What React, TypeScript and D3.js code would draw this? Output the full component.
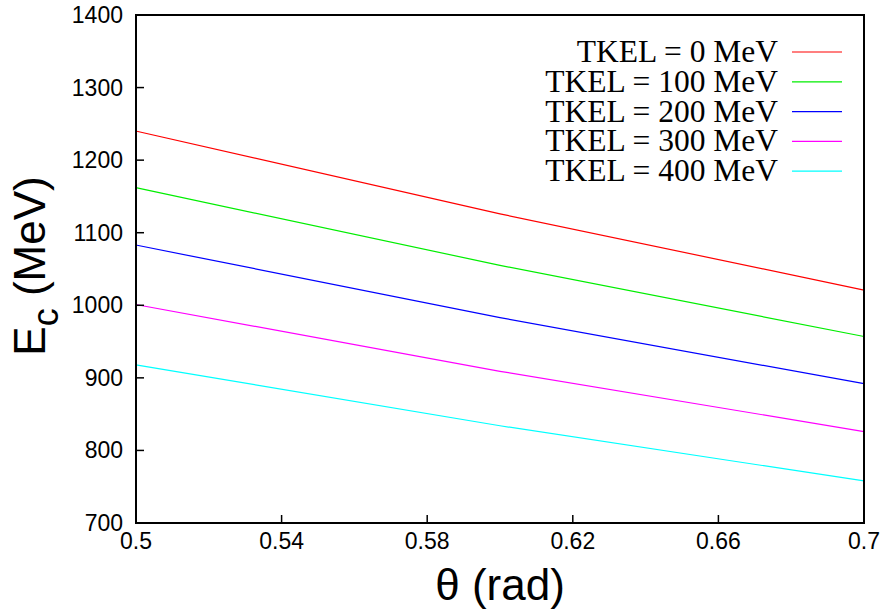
import React from "react";
import * as d3 from "d3";

const thetaValues = [0.5, 0.6, 0.7];
const seriesLabels = ["TKEL = 0 MeV", "TKEL = 100 MeV", "TKEL = 200 MeV", "TKEL = 300 MeV", "TKEL = 400 MeV"];
const seriesColors = ["#ff0000", "#00ee00", "#0000ff", "#ff00ff", "#00ffff"];
const tkel0 = [1240, 1126, 1021];
const tkel100 = [1162, 1055, 957];
const tkel200 = [1083, 983, 892];
const tkel300 = [1001, 909, 826];
const tkel400 = [918, 834, 758];
const seriesValues = [tkel0, tkel100, tkel200, tkel300, tkel400];
const xTicks = [0.5, 0.54, 0.58, 0.62, 0.66, 0.7];
const yTicks = [700, 800, 900, 1000, 1100, 1200, 1300, 1400];

const W = 886, H = 610;
const L = 136, R = 864, T = 15, B = 523;

export default function App() {
  const x = d3.scaleLinear().domain([0.5, 0.7]).range([L, R]);
  const y = d3.scaleLinear().domain([700, 1400]).range([B, T]);
  const line = d3.line<number>()
    .x((_, i) => x(thetaValues[i]))
    .y((d) => y(d))
    .curve(d3.curveMonotoneX);
  const sans = "'Liberation Sans', Arial, sans-serif";
  const serif = "'Liberation Serif', 'Times New Roman', serif";
  return (
    <svg width={W} height={H} style={{ position: "absolute", left: 0, top: 0, background: "#fff" }}>
      <rect x={0} y={0} width={W} height={H} fill="#fff" />
      {seriesValues.map((vals, i) => (
        <path key={i} d={line(vals) || ""} fill="none" stroke={seriesColors[i]} strokeWidth={1.2} />
      ))}
      {yTicks.map((t) => (
        <g key={t}>
          <line x1={L} x2={L + 8} y1={y(t)} y2={y(t)} stroke="#000" strokeWidth={1.5} />
          <text x={123} y={y(t) + 8} textAnchor="end" fontFamily={sans} fontSize={23} fill="#000">{t}</text>
        </g>
      ))}
      {xTicks.map((t) => (
        <g key={t}>
          <line x1={x(t)} x2={x(t)} y1={B} y2={B - 8} stroke="#000" strokeWidth={1.5} />
          <text x={x(t)} y={549} textAnchor="middle" fontFamily={sans} fontSize={23} fill="#000">{t}</text>
        </g>
      ))}
      <rect x={L} y={T} width={R - L} height={B - T} fill="none" stroke="#000" strokeWidth={2} />
      {seriesLabels.map((s, i) => (
        <g key={s}>
          <text x={778} y={62 + i * 29.8} textAnchor="end" fontFamily={serif} fontSize={31.5} fill="#000">{s}</text>
          <line x1={792} x2={842} y1={52 + i * 29.8} y2={52 + i * 29.8} stroke={seriesColors[i]} strokeWidth={1.2} />
        </g>
      ))}
      <text transform="translate(45,266) rotate(-90)" textAnchor="middle" fontFamily={sans} fontSize={44} fill="#000">
        E<tspan fontSize={36} dy={13}>c</tspan><tspan dy={-13}> (MeV)</tspan>
      </text>
      <text x={500} y={600} textAnchor="middle" fontFamily={sans} fontSize={44} fill="#000">θ (rad)</text>
    </svg>
  );
}
